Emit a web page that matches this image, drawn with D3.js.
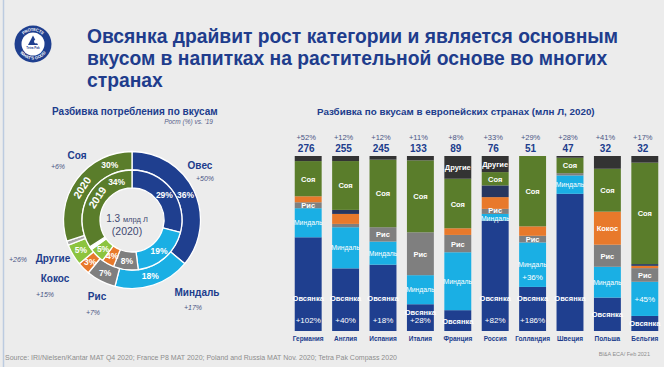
<!DOCTYPE html>
<meta charset="utf-8">
<style>
  body { margin: 0; background: #ececec; }
  svg { display: block; font-family: Arial, "Liberation Sans", sans-serif; }
  .title { font-size: 19.3px; font-weight: bold; fill: #203c8c; }
  .sub { font-size: 10px; font-weight: bold; fill: #203c8c; }
  .note { font-size: 6.5px; font-style: italic; fill: #56608a; }
  .name { font-size: 10px; font-weight: bold; fill: #203c8c; text-anchor: middle; }
  .grow { font-size: 7px; font-style: italic; fill: #4a5585; text-anchor: middle; }
  .pct { font-size: 8.5px; font-weight: bold; fill: #fff; text-anchor: middle; }
  .seg { font-size: 7.5px; font-weight: bold; fill: #fff; text-anchor: middle; }
  .top1 { font-size: 7.5px; fill: #4a5585; text-anchor: middle; }
  .top2 { font-size: 10px; font-weight: bold; fill: #203c8c; text-anchor: middle; }
  .cty { font-size: 6.5px; font-weight: bold; fill: #203c8c; text-anchor: middle; }
</style>
<svg width="664" height="367"></svg>
<script src="https://d3js.org/d3.v7.min.js"></script>
<script>

// ---- donut data (share of volume, %)
var flavours  = ["Овес", "Миндаль", "Рис", "Кокос", "Другие", "Соя"];
var share2020 = [36, 18, 7, 3, 5, 30];
var share2019 = [29, 19, 8, 4, 5, 34];
var growthVs19 = ["+50%", "+17%", "+7%", "+15%", "+26%", "+6%"];

// ---- bars data (share of country volume, %)
var countries = ["Германия", "Англия", "Испания", "Италия", "Франция", "Россия", "Голландия", "Швеция", "Польша", "Бельгия"];
var totals    = [276, 255, 245, 133, 89, 76, 51, 47, 32, 32];
var totalGrowth = ["+52%", "+12%", "+12%", "+11%", "+8%", "+33%", "+29%", "+28%", "+41%", "+17%"];
var oat     = [53.5, 35.8, 37.9, 15.3, 11.9, 63.1, 25.2, 78.4, 19.1, 8.6];
var almond  = [16.6, 23.5, 13.2, 16.6, 33.1, 3.8, 25.4, 10.5, 17.6, 19.5];
var rice    = [3.4, 1.9, 8.2, 24.5, 9.9, 2.9, 3.8, 1.3, 12.6, 7.8];
var coconut = [3.4, 5.7, 0, 0, 3.8, 6.7, 5.4, 0, 18.9, 1.3];
var misc    = [0, 2.3, 0, 0, 0, 6.7, 0, 0, 0, 1.0];
var soy     = [20.1, 27.9, 38.6, 41.1, 28.3, 7.6, 40.2, 8.8, 24.5, 57.9];
var others  = [2.9, 2.9, 2.1, 2.5, 13.0, 9.2, 0, 1.0, 7.3, 3.8];
var oatGrowth    = ["+102%", "+40%", "+18%", "+28%", null, "+82%", "+186%", null, null, null];
var almondGrowth = [null, null, null, null, null, null, "+36%", null, null, "+45%"];
var segNames = {oat: "Овсянка", almond: "Миндаль", rice: "Рис", coconut: "Кокос", soy: "Соя", others: "Другие"};
var shown = [
  ["soy", "rice", "almond", "oat"],
  ["soy", "almond", "oat"],
  ["soy", "rice", "almond", "oat"],
  ["soy", "rice", "almond", "oat"],
  ["others", "soy", "rice", "almond", "oat"],
  ["others", "soy", "rice", "almond", "oat"],
  ["soy", "rice", "almond", "oat"],
  ["soy", "almond", "oat"],
  ["soy", "coconut", "rice", "almond", "oat"],
  ["soy", "rice", "oat"]
];

var svg = d3.select("svg");

// left edge line
svg.append("line").attr("x1", 3.5).attr("x2", 3.5).attr("y1", 0).attr("y2", 367)
  .attr("stroke", "#bccbe0").attr("stroke-width", 1.5);

// logo
var logo = svg.append("g").attr("transform", "translate(33,44)");
logo.append("circle").attr("r", 18.5).attr("fill", "#1f3f8f");
logo.append("circle").attr("r", 11.5).attr("fill", "#fff");
logo.append("path").attr("d", "M-5,1 L0,-8.5 L5,1 Z").attr("fill", "#1f3f8f");
logo.append("circle").attr("cx", 3).attr("cy", -2.5).attr("r", 2).attr("fill", "#fff");
logo.append("text").attr("y", 5).attr("text-anchor", "middle").attr("font-size", 3)
  .attr("font-weight", "bold").attr("fill", "#1f3f8f").text("Tetra Pak");
logo.append("path").attr("id", "arcTop").attr("d", "M-14.5,0 A14.5,14.5 0 0 1 14.5,0").attr("fill", "none");
logo.append("path").attr("id", "arcBot").attr("d", "M-15.5,0 A15.5,15.5 0 0 0 15.5,0").attr("fill", "none");
logo.append("text").attr("font-size", 4.2).attr("font-weight", "bold").attr("fill", "#fff").attr("dy", 1.4)
  .append("textPath").attr("href", "#arcTop").attr("startOffset", "50%").attr("text-anchor", "middle").text("PROTECTS");
logo.append("text").attr("font-size", 4.2).attr("font-weight", "bold").attr("fill", "#fff")
  .append("textPath").attr("href", "#arcBot").attr("startOffset", "50%").attr("text-anchor", "middle").text("WHAT'S GOOD");

// title
var titleLines = ["Овсянка драйвит рост категории и является основным",
                  "вкусом в напитках на растительной основе во многих",
                  "странах"];
svg.selectAll(".title").data(titleLines).enter().append("text")
  .attr("class", "title").attr("x", 87).attr("y", function(d, i) { return 43 + i * 22; })
  .text(function(d) { return d; });

// ---------- donut ----------
svg.append("text").attr("class", "sub").attr("x", 52).attr("y", 115).text("Разбивка потребления по вкусам");
svg.append("text").attr("class", "note").attr("x", 213).attr("y", 124).attr("text-anchor", "end").text("Рост (%) vs. '19");

var cx = 132, cy = 220;
var donut = svg.append("g").attr("transform", "translate(" + cx + "," + cy + ")");
var ringColor = {"Овес": "#1f3f8f", "Миндаль": "#1aafe4", "Рис": "#7f7f7f", "Кокос": "#e8792b",
                 "Другие": "#8cc43f", "Соя": "#5a7d2b", "gap": "#a8a8a8"};
var pie = d3.pie().sort(null).value(function(d) { return d.v; });

function ringData(vals) {
  var d = flavours.map(function(f, i) { return {k: f, v: vals[i]}; });
  d.splice(5, 0, {k: "gap", v: 100 - d3.sum(vals)});
  return d;
}

var rings = [
  {vals: share2020, r0: 50, r1: 68.5, label: "2020"},
  {vals: share2019, r0: 32, r1: 50, label: "2019"}
];
rings.forEach(function(ring, ri) {
  var arc = d3.arc().innerRadius(ring.r0).outerRadius(ring.r1);
  var arcs = pie(ringData(ring.vals));
  donut.append("g").selectAll("path").data(arcs).enter().append("path")
    .attr("d", arc)
    .attr("fill", function(d) { return d.data.k === "gap" && ri === 1 ? "#fff" : ringColor[d.data.k]; })
    .attr("stroke", "#fff").attr("stroke-width", 1.3);
  var rm = (ring.r0 + ring.r1) / 2;
  arcs.forEach(function(d) {
    if (d.data.k === "gap") return;
    var a = (d.startAngle + d.endAngle) / 2;
    if (d.data.k === "Соя") a = d.endAngle - 22 * Math.PI / 180;
    donut.append("text").attr("class", "pct")
      .attr("x", rm * Math.sin(a)).attr("y", -rm * Math.cos(a) + 3)
      .text(d.data.v + "%");
  });
  var ya = 303 * Math.PI / 180;
  donut.append("text").attr("class", "pct").style("font-size", "10.5px")
    .attr("transform", "translate(" + (rm * Math.sin(ya)) + "," + (-rm * Math.cos(ya)) + ") rotate(-57)")
    .attr("dy", 3.5).text(ring.label);
});

// centre text
var ct = donut.append("text").attr("text-anchor", "middle").attr("x", -5).attr("y", 2).attr("fill", "#3f4a72");
ct.append("tspan").attr("font-size", 10).text("1.3 ");
ct.append("tspan").attr("font-size", 7.5).text("млрд Л");
donut.append("text").attr("text-anchor", "middle").attr("x", -5).attr("y", 15)
  .attr("fill", "#3f4a72").attr("font-size", 10.5).text("(2020)");

// callouts (offsets from centre)
var callout = {
  "Соя":     {n: [-55, -61], g: [-74, -51]},
  "Овес":    {n: [68, -51],  g: [73, -39]},
  "Миндаль": {n: [65, 76],   g: [61, 90]},
  "Рис":     {n: [-35, 80],  g: [-39, 95]},
  "Кокос":   {n: [-77, 62],  g: [-87, 77]},
  "Другие":  {n: [-79, 42],  g: [-114, 42]}
};
flavours.forEach(function(f, i) {
  var c = callout[f];
  donut.append("text").attr("class", "name").attr("x", c.n[0]).attr("y", c.n[1]).text(f);
  donut.append("text").attr("class", "grow").attr("x", c.g[0]).attr("y", c.g[1]).text(growthVs19[i]);
});

// ---------- bars ----------
svg.append("text").attr("class", "sub").attr("x", 317).attr("y", 115).style("font-size", "9.8px")
  .text("Разбивка по вкусам в европейских странах (млн Л, 2020)");

var keys = ["oat", "almond", "rice", "coconut", "misc", "soy", "others"];
var barColor = {oat: "#1f3f8f", almond: "#1aafe4", rice: "#7f7f7f", coconut: "#e8792b",
                misc: "#27365f", soy: "#5a7d2b", others: "#333333"};
var series = {oat: oat, almond: almond, rice: rice, coconut: coconut, misc: misc, soy: soy, others: others};
var table = countries.map(function(c, i) {
  var row = {country: c, i: i};
  keys.forEach(function(k) { row[k] = series[k][i]; });
  return row;
});

var x = d3.scaleBand().domain(countries).range([289.5, 663.5]).paddingInner(0.28).paddingOuter(0.14);
var y = d3.scaleLinear().domain([0, 1]).range([331, 156]);
var stacked = d3.stack().keys(keys).offset(d3.stackOffsetExpand)(table);

var bars = svg.append("g");
stacked.forEach(function(s) {
  bars.append("g").attr("fill", barColor[s.key]).selectAll("rect").data(s).enter().append("rect")
    .attr("x", function(d) { return x(d.data.country); })
    .attr("width", x.bandwidth())
    .attr("y", function(d) { return y(d[1]); })
    .attr("height", function(d) { return y(d[0]) - y(d[1]); });
});

// segment labels, collected per bar (bottom to top) then nudged apart
var bottom = y(0);
countries.forEach(function(c, i) {
  var cxBar = x(c) + x.bandwidth() / 2;
  var labs = [];
  stacked.forEach(function(s) {
    var d = s[i];
    var top = y(d[1]), bot = y(d[0]), mid = (top + bot) / 2;
    var has = shown[i].indexOf(s.key) >= 0;
    if (s.key === "oat") {
      var yy;
      if (oatGrowth[i]) {
        yy = Math.max(bottom - 33, top + 8);
        bars.append("text").attr("class", "seg").style("font-weight", "normal").style("font-size", "8px")
          .attr("x", cxBar).attr("y", bottom - 8).text(oatGrowth[i]);
      } else {
        yy = Math.max(bottom - 33, mid);
      }
      bars.append("text").attr("class", "seg").attr("x", cxBar).attr("y", yy + 3).text(segNames.oat);
      return;
    }
    if (s.key === "almond" && almondGrowth[i]) {
      bars.append("text").attr("class", "seg").style("font-weight", "normal").style("font-size", "8px")
        .attr("x", cxBar).attr("y", (has ? mid + 12 : mid) + 3).text(almondGrowth[i]);
    }
    if (has) labs.push({key: s.key, y: mid});
  });
  for (var j = 1; j < labs.length; j++) {
    var gap = labs[j - 1].y - labs[j].y;
    if (gap < 8.5) {
      var k = (8.5 - gap) / 2;
      labs[j - 1].y += k;
      labs[j].y -= k;
    }
  }
  labs.forEach(function(l) {
    var small = l.key === "almond";
    bars.append("text").attr("class", "seg")
      .attr("x", cxBar).attr("y", l.y + (small ? 2.5 : 3))
      .style("font-weight", small ? "normal" : "bold")
      .style("font-size", small ? "6.8px" : null)
      .text(segNames[l.key]);
  });
});

// totals above bars, countries below
countries.forEach(function(c, i) {
  var bx = x(c) + x.bandwidth() / 2;
  svg.append("text").attr("class", "top1").attr("x", bx - 2).attr("y", 140).text(totalGrowth[i]);
  svg.append("text").attr("class", "top2").attr("x", bx - 2).attr("y", 151.5).text(totals[i]);
  svg.append("text").attr("class", "cty").attr("x", bx).attr("y", 341).text(c);
});

// footer
svg.append("text").attr("x", 5).attr("y", 360).attr("font-size", 7).attr("fill", "#8c8c8c")
  .text("Source: IRI/Nielsen/Kantar MAT Q4 2020; France P8 MAT 2020; Poland and Russia MAT Nov. 2020; Tetra Pak Compass 2020");
svg.append("text").attr("x", 650).attr("y", 356).attr("text-anchor", "end").attr("font-size", 5.5)
  .attr("fill", "#8c8c8c").text("BI&A ECA/ Feb 2021");
</script>
